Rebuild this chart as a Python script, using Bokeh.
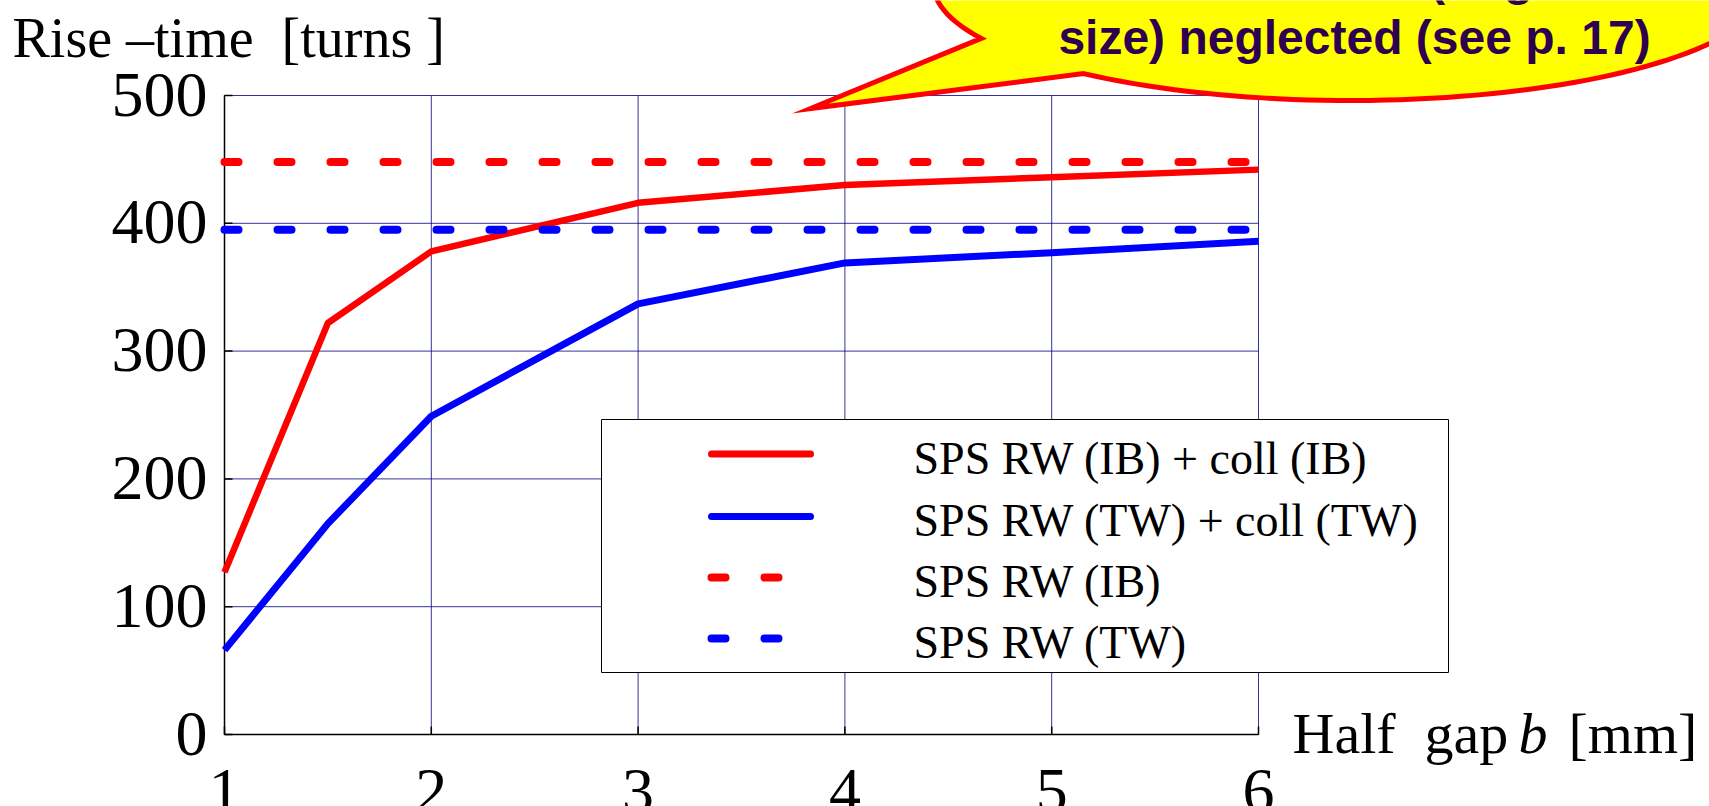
import numpy as np
from bokeh.plotting import figure
from bokeh.models import Range1d
from bokeh.core.properties import value
from bokeh.embed import file_html
from bokeh.resources import INLINE

# ---- data -------------------------------------------------------------
half_gap = [1, 1.5, 2, 3, 4, 5, 6]                      # half gap b [mm]
rise_rw_coll_ib = [127, 322, 378, 416, 430, 436, 442]   # SPS RW (IB) + coll (IB)
rise_rw_coll_tw = [66, 165, 249, 337, 369, 377, 386]    # SPS RW (TW) + coll (TW)
rw_only_gap = [1, 6]
rise_rw_ib = [448, 448]                                 # SPS RW (IB)
rise_rw_tw = [395, 395]                                 # SPS RW (TW)

x_ticks = [1, 2, 3, 4, 5, 6]
y_ticks = [0, 100, 200, 300, 400, 500]

series_labels = ["SPS RW (IB) + coll (IB)", "SPS RW (TW) + coll (TW)",
                 "SPS RW (IB)", "SPS RW (TW)"]
series_colors = ["#FF0000", "#0000FF", "#FF0000", "#0000FF"]
series_dashed = [False, False, True, True]

y_title = "Rise \u2013time \u00a0[turns ]"
x_title = ["Half\u00a0 gap", "b", "[mm]"]
callout_lines = ["Non-linear effects (large beam", "size) neglected (see p. 17)"]

# ---- layout -----------------------------------------------------------
W, H = 1709, 806
FL, FR, FT, FB = 224, 1258, 95, 734      # plot box edges (page px)
X0, X1, Y0, Y1 = x_ticks[0], x_ticks[-1], y_ticks[0], y_ticks[-1]
SX = (FR - FL) / (X1 - X0)               # px per x unit
SY = (FB - FT) / (Y1 - Y0)               # px per y unit

SERIF = value("Liberation Serif")
SANS = value("Liberation Sans")
DASH = "14 39"


def px_x(X):
    """page pixel column -> data x"""
    return X0 + (X - FL) / SX


def px_y(Y):
    """page pixel row -> data y"""
    return Y0 + (FB - Y) / SY


# the frame fills the whole page; the plot box is drawn inside it
p = figure(width=W, height=H, output_backend="svg", toolbar_location=None,
           x_range=Range1d(px_x(0), px_x(W)), y_range=Range1d(px_y(H), px_y(0)),
           x_axis_type=None, y_axis_type=None,
           min_border=0, min_border_left=0, min_border_right=0,
           min_border_top=0, min_border_bottom=0)
p.background_fill_color = "white"
p.border_fill_color = "white"
p.outline_line_color = None

n_x, n_y = len(x_ticks), len(y_ticks)

# grid
p.segment(x0=x_ticks, y0=[Y0] * n_x, x1=x_ticks, y1=[Y1] * n_x,
          line_color="#000080", line_alpha=0.8, line_width=1)
p.segment(x0=[X0] * n_y, y0=y_ticks, x1=[X1] * n_y, y1=y_ticks,
          line_color="#000080", line_alpha=0.8, line_width=1)

# left / bottom axis lines and inward ticks
p.segment(x0=[X0, X0], y0=[Y0, Y0], x1=[X0, X1], y1=[Y1, Y0],
          line_color="black", line_width=1.5)
p.segment(x0=[X0] * n_y, y0=y_ticks, x1=[X0 + 8 / SX] * n_y, y1=y_ticks,
          line_color="black", line_width=1.5)
p.segment(x0=x_ticks, y0=[Y0] * n_x, x1=x_ticks, y1=[Y0 + 8 / SY] * n_x,
          line_color="black", line_width=1.5)

# tick labels
p.text(x=[X0] * n_y, y=y_ticks, text=[str(v) for v in y_ticks],
       x_offset=-17, y_offset=-1, text_align="right", text_baseline="middle",
       text_font=SERIF, text_font_size="64px", text_color="black")
p.text(x=x_ticks, y=[Y0] * n_x, text=[str(v) for v in x_ticks],
       y_offset=56, text_align="center", text_baseline="middle",
       text_font=SERIF, text_font_size="64px", text_color="black")

# legend box (drawn before the curves, it hides the grid behind it)
p.quad(left=[px_x(601)], right=[px_x(1448)], top=[px_y(419)], bottom=[px_y(672)],
       fill_color="white", line_color="black", line_width=1)

# curves
p.line(half_gap, rise_rw_coll_ib, line_color=series_colors[0], line_width=6.5, line_join="round")
p.line(half_gap, rise_rw_coll_tw, line_color=series_colors[1], line_width=7, line_join="round")
p.line(rw_only_gap, rise_rw_ib, line_color=series_colors[2], line_width=8,
       line_dash=DASH, line_cap="round")
p.line(rw_only_gap, rise_rw_tw, line_color=series_colors[3], line_width=8,
       line_dash=DASH, line_cap="round")

# legend entries
row_y = [453.5, 516, 577, 638]
for lbl, col, dashed, ry in zip(series_labels, series_colors, series_dashed, row_y):
    kw = dict(line_dash=DASH, line_cap="round", line_width=8) if dashed else \
        dict(line_cap="round", line_width=7)
    p.line([px_x(711), px_x(810)], [px_y(ry), px_y(ry)], line_color=col, **kw)
    p.text(x=[px_x(913)], y=[px_y(ry + 4)], text=[lbl], text_baseline="middle",
           text_font=SERIF, text_font_size="46px", text_color="black")

# axis titles
p.text(x=[px_x(12)], y=[px_y(37)], text=[y_title], text_baseline="middle",
       text_font=SERIF, text_font_size="56px", text_color="black")
for txt, X, style in zip(x_title, [1292, 1518, 1568], ["normal", "italic", "normal"]):
    p.text(x=[px_x(X)], y=[px_y(733)], text=[txt], text_baseline="middle",
           text_font=SERIF, text_font_size="58px", text_font_style=style,
           text_color="black")

# callout bubble: ellipse with a pointed tail
cx, cy, a, b = 1350.0, -16.0, 417.0, 116.0
theta = np.radians(np.linspace(129.8, -207.7, 160))
bx = np.append(cx + a * np.cos(theta), 810.0)
by = np.append(cy + b * np.sin(theta), 108.0)
p.patch([px_x(v) for v in bx], [px_y(v) for v in by],
        fill_color="#FFFF00", line_color="#FF0000", line_width=5, line_join="miter")
for txt, mid in zip(callout_lines, [-22, 37]):
    p.text(x=[px_x(1354)], y=[px_y(mid)], text=[txt], text_align="center",
           text_baseline="middle", text_font=SANS, text_font_size="48px",
           text_font_style="bold", text_color="#2E0050")

open("out.html", "w").write(file_html(p, INLINE))
